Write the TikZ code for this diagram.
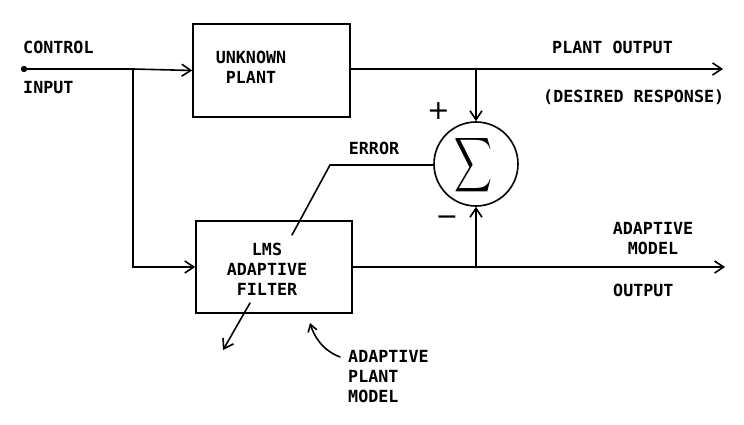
\documentclass[tikz,border=0pt]{standalone}
\usepackage{fontspec}
\setmonofont{DejaVu Sans Mono}
\newfontfamily\djv{DejaVu Sans}
\usetikzlibrary{arrows.meta,calc}
\begin{document}
\begin{tikzpicture}[x=1pt,y=-1pt,
  wire/.style={line width=1.6pt,line cap=round},
  arr/.style={wire,-{Straight Barb[length=9pt,width=12pt,line width=1.6pt]}},
  blk/.style={draw,line width=1.6pt,minimum width=#1,inner sep=0pt},
  lbl/.style={font=\ttfamily\bfseries\fontsize{16.7}{20}\selectfont,inner sep=0pt,align=left},
  lblc/.style={lbl,align=center},
  sgn/.style={inner sep=0pt,font=\djv\fontsize{27}{27}\selectfont}]
\useasboundingbox[fill=white] (0,0) rectangle (744,425);
% blocks
\node[blk=157pt,minimum height=93pt] (plant) at (271.5,70.5) {};
\node[blk=156pt,minimum height=92pt] (filt) at (274,267) {};
\node[draw,circle,line width=1.6pt,minimum size=84pt,inner sep=0pt] (sum) at (476,164) {};
\node[inner sep=0pt] (sig) at (473,165) {\resizebox{38pt}{40pt}{$\displaystyle\sum$}};
% coordinates
\coordinate (in) at (24,69);
\coordinate (j1) at (133,69);
\coordinate (j2) at (476,69);
\coordinate (j3) at (476,267);
\coordinate (o1) at (723,69);
\coordinate (o2) at (725,267);
\coordinate (ec) at (330,165);
\coordinate (ee) at (292,235);
\coordinate (as) at (250,303);
\coordinate (ae) at (223,350);
\coordinate (cs) at (340,357);
\coordinate (ce) at (310,323);
% connectors
\fill (in) circle (3.2pt);
\draw[wire] (in) -- (j1);
\draw[arr] (j1) -- (plant.west);
\draw[wire] (j1) |- ($(filt.west)+(-20,0)$);
\draw[arr] ($(filt.west)+(-20,0)$) -- (filt.west);
\draw[arr] (plant.east |- j2) -- (o1);
\draw[arr] (j2) -- (sum.north);
\draw[arr] (filt.east |- j3) -- (o2);
\draw[arr] (j3) -- (sum.south);
\draw[wire] (sum.west |- ec) -- (ec) -- (ee);
\draw[arr] (as) -- (ae);
\draw[wire,-{Straight Barb[length=7pt,width=9pt,line width=1.6pt]}] (cs) .. controls (322,350) and (314,336) .. (ce);
% labels
\node[lblc] (tplant) at (251,67) {UNKNOWN\\PLANT};
\node[lblc] (tfilt) at (267,269) {LMS\\ADAPTIVE\\FILTER};
\node[lbl,anchor=west] (tctl) at (23,47) {CONTROL};
\node[lbl,anchor=west] (tin) at (23,88) {INPUT};
\node[lbl,anchor=west] (tpo) at (552,47) {PLANT OUTPUT};
\node[lbl,anchor=west] (tdr) at (543,97) {(DESIRED RESPONSE)};
\node[lbl] (terr) at (374,148) {ERROR};
\node[lblc] (tam) at (653,239) {ADAPTIVE\\MODEL};
\node[lbl,anchor=west] (tout) at (613,290) {OUTPUT};
\node[lbl,anchor=north west,text depth=0pt] (tapm) at (348,350) {ADAPTIVE\\PLANT\\MODEL};
\node[sgn] (plus) at (438.5,111) {+};
\node[sgn] (minus) at (447,221) {−};
\end{tikzpicture}
\end{document}
